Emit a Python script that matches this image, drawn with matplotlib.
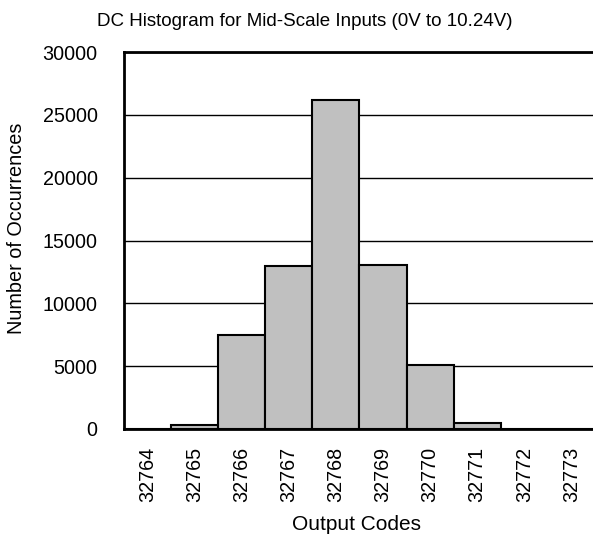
import matplotlib
matplotlib.use("Agg")
import matplotlib.pyplot as plt
import numpy as np

plt.rcParams["font.family"] = ["Liberation Sans", "DejaVu Sans"]

# histogram counts per output code
codes = ["32764", "32765", "32766", "32767", "32768",
         "32769", "32770", "32771", "32772", "32773"]
counts = [20, 340, 7450, 13000, 26150, 13050, 5130, 480, 20, 0]

y_ticks = [0, 5000, 10000, 15000, 20000, 25000, 30000]

fig = plt.figure(figsize=(5.93, 5.34), dpi=100)
ax = fig.add_axes([124 / 593, 105 / 534, 469 / 593, 377 / 534])

x = np.arange(len(codes))
ax.bar(x, counts, width=1.0, color="#c0c0c0", edgecolor="black",
       linewidth=1.5, zorder=3)

ax.set_xlim(-0.5, 9.46)
ax.set_ylim(0, 30000)
ax.set_yticks(y_ticks)
ax.set_yticklabels([str(v) for v in y_ticks], fontsize=14.2)
ax.set_xticks(x)
ax.set_xticklabels(codes, rotation=90, fontsize=14.2)
ax.tick_params(axis="both", length=0)
ax.tick_params(axis="x", pad=13)
ax.tick_params(axis="y", pad=19)

ax.yaxis.grid(True, color="black", linewidth=1.0, zorder=0)
ax.set_axisbelow(True)

ax.spines["right"].set_visible(False)
for side in ["left", "bottom", "top"]:
    ax.spines[side].set_linewidth(2)
    ax.spines[side].set_zorder(4)

fig.text(305 / 593, 1 - 22 / 534, "DC Histogram for Mid-Scale Inputs (0V to 10.24V)",
         ha="center", va="center", fontsize=13.5)
fig.text(17 / 593, 1 - 228 / 534, "Number of Occurrences",
         ha="center", va="center", rotation=90, fontsize=14.3)
fig.text(357 / 593, 1 - 524 / 534, "Output Codes",
         ha="center", va="center", fontsize=15)

fig.savefig("out.png", dpi=100)
